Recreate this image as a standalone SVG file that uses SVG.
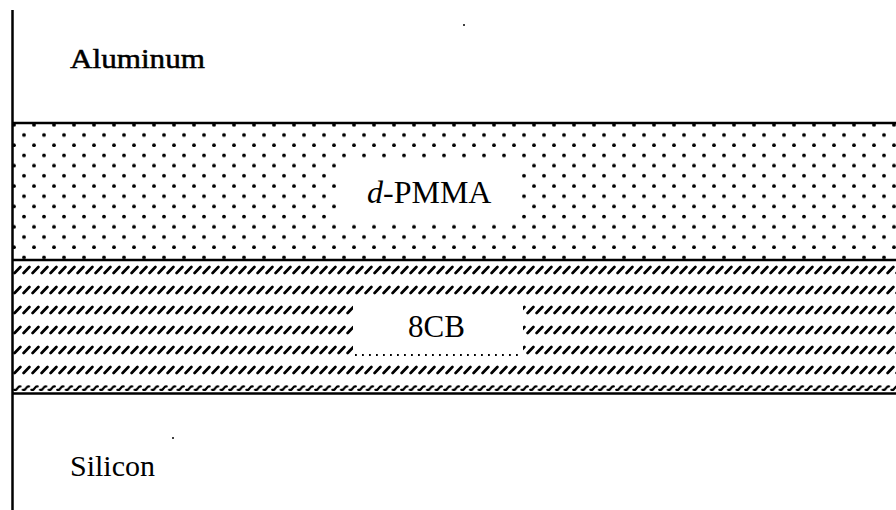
<svg xmlns="http://www.w3.org/2000/svg" width="896" height="510" viewBox="0 0 896 510">
  <style>
    .lbl { font-family: "Liberation Serif", "Times New Roman", "DejaVu Serif", serif; fill: #000; }
    .rule { stroke: #000; stroke-width: 2.5; fill: none; }
  </style>
  <defs>
    <pattern id="dots" patternUnits="userSpaceOnUse" x="4" y="119.8" width="20" height="20.4">
      <circle cx="10" cy="5" r="1.9" fill="#000"/>
      <circle cx="0" cy="15.2" r="1.9" fill="#000"/>
      <circle cx="20" cy="15.2" r="1.9" fill="#000"/>
    </pattern>
    <pattern id="hatch" patternUnits="userSpaceOnUse" x="13" y="260" width="9" height="20">
      <line x1="1.6" y1="13" x2="7.4" y2="7" stroke="#000" stroke-width="2.7" stroke-linecap="round"/>
    </pattern>
    <pattern id="squig" patternUnits="userSpaceOnUse" x="13" y="384" width="8.6" height="8">
      <path d="M1.2 5.8 L3.2 5.8 L5.8 2.6 L7.4 2.4" stroke="#000" stroke-width="2.2" fill="none" stroke-linecap="round" stroke-linejoin="round"/>
    </pattern>
  </defs>
  <rect width="896" height="510" fill="#fff"/>

  <g id="aluminum">
    <text class="lbl" font-family="'Liberation Serif', 'DejaVu Serif', serif" x="70" y="68" font-size="27" stroke="#000" stroke-width="0.5" textLength="135" lengthAdjust="spacingAndGlyphs">Aluminum</text>
  </g>

  <g id="d-pmma">
    <rect x="13" y="124" width="883" height="135" fill="url(#dots)"/>
    <rect x="337" y="163" width="183" height="58" fill="#fff"/>
    <text class="lbl" font-family="'Liberation Serif', 'DejaVu Serif', serif" x="367" y="203" font-size="32"><tspan font-style="italic">d</tspan>-PMMA</text>
  </g>

  <g id="8cb">
    <rect x="13" y="261.5" width="883" height="119" fill="url(#hatch)"/>
    <rect x="13" y="384" width="883" height="8" fill="url(#squig)"/>
    <rect x="353" y="299" width="170" height="57" fill="#fff"/>
    <line x1="355" y1="355" x2="522" y2="355" stroke="#000" stroke-width="1.8" stroke-dasharray="1.8 5.2"/>
    <text class="lbl" font-family="'Liberation Serif', 'DejaVu Serif', serif" x="408" y="337" font-size="31">8CB</text>
  </g>

  <g id="silicon">
    <text class="lbl" font-family="'Liberation Serif', 'DejaVu Serif', serif" x="70" y="476" font-size="30">Silicon</text>
  </g>

  <g id="rules">
    <line class="rule" x1="12.5" y1="10" x2="12.5" y2="510" stroke-width="2"/>
    <line class="rule" x1="12" y1="123" x2="896" y2="123"/>
    <line class="rule" x1="12" y1="260" x2="896" y2="260"/>
    <line class="rule" x1="12" y1="393.5" x2="896" y2="393.5"/>
  </g>

  <g id="specks">
    <circle cx="464" cy="25" r="1" fill="#000"/>
    <circle cx="173" cy="438" r="1" fill="#000"/>
  </g>
</svg>
